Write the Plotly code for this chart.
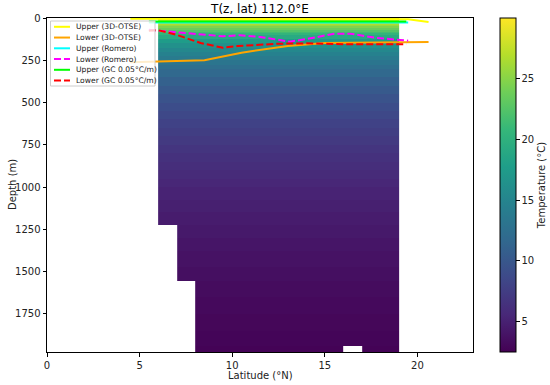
import numpy as np
import plotly.graph_objects as go

# ---- data ----
lat_edges = [6, 7, 8, 9, 10, 11, 12, 13, 14, 15, 16, 17, 18, 19]
bottom_depth = [1225, 1555, 1975, 1975, 1975, 1975, 1975, 1975, 1975, 1975, 1940, 1975, 1975]
depth_edges = [0, 10, 20, 30, 40, 50, 60, 70, 80, 90, 100,
               125, 150, 175, 200, 225, 250, 275, 300,
               350, 400, 450, 500, 550, 600, 650, 700, 750, 800, 850, 900, 950, 1000,
               1075, 1150, 1225, 1300, 1380, 1470, 1555, 1650, 1750, 1850, 1940, 1975]
temp_profile = [28.5, 28.2, 27.6, 26.8, 25.8, 24.7, 23.6, 22.5, 21.5, 20.5,
                19.2, 17.6, 16.4, 15.4, 14.6, 13.9, 13.2, 12.5,
                11.8, 11.0, 10.3, 9.6, 9.0, 8.5, 8.0, 7.6, 7.2, 6.8, 6.4, 6.1, 5.8, 5.5,
                5.2, 4.9, 4.6, 4.35, 4.1, 3.85, 3.6, 3.35, 3.15, 2.95, 2.8, 2.65]

lat_otse = [4.5, 6.0, 8.5, 10.5, 13.0, 15.0, 17.5, 19.5, 20.6]
upper_otse = [5, 5, 5, 5, 5, 5, 5, 8, 24]
lower_otse = [262, 258, 250, 205, 165, 148, 145, 142, 142]

lat_romero = [5.5, 6.0, 7.0, 9.5, 10.4, 11.5, 13.1, 14.0, 15.5, 16.4, 17.8, 19.5]
upper_romero = [26, 26, 26, 26, 26, 26, 26, 26, 26, 26, 26, 26]
lower_romero = [70, 75, 84, 108, 102, 112, 140, 125, 93, 93, 118, 134]

lat_gc = [5.5, 6.0, 7.0, 8.3, 9.5, 10.3, 12.5, 14.0, 16.0, 19.4]
upper_gc = [20, 20, 20, 20, 20, 20, 20, 20, 20, 20]
lower_gc = [76, 72, 100, 148, 176, 166, 152, 150, 155, 155]

series = [
    ("Upper (3D-OTSE)", lat_otse, upper_otse, "#ffff00", "solid"),
    ("Lower (3D-OTSE)", lat_otse, lower_otse, "#ffa500", "solid"),
    ("Upper (Romero)", lat_romero, upper_romero, "#00ffff", "solid"),
    ("Lower (Romero)", lat_romero, lower_romero, "#ff00ff", "7px,3px"),
    ("Upper (GC 0.05°C/m)", lat_gc, upper_gc, "#00ff00", "solid"),
    ("Lower (GC 0.05°C/m)", lat_gc, lower_gc, "#ff0000", "7px,3px"),
]

# ---- build field ----
nz = len(depth_edges) - 1
nx = len(lat_edges) - 1
z = np.full((nz, nx), np.nan)
for j in range(nx):
    for i in range(nz):
        if depth_edges[i] < bottom_depth[j]:
            z[i, j] = temp_profile[i]

FONT = "DejaVu Sans"
fig = go.Figure()
fig.add_trace(go.Heatmap(
    x=lat_edges, y=depth_edges, z=z, colorscale="Viridis", zmin=2.5, zmax=30,
    hoverinfo="skip", showscale=True,
    colorbar=dict(
        x=(500 - 47) / 426, xanchor="left", xpad=0, y=0.5, yanchor="middle", ypad=0,
        len=1, lenmode="fraction", thickness=16, outlinewidth=1, outlinecolor="black",
        tickvals=[5, 10, 15, 20, 25], ticks="outside", ticklen=3.5, tickcolor="black",
        tickfont=dict(size=10, color="#222222", family=FONT),
        title=dict(text="Temperature (°C)", side="right",
                   font=dict(size=10, color="#222222", family=FONT)),
    ),
))

for name, xs, ys, col, dash in series:
    fig.add_trace(go.Scatter(x=xs, y=ys, mode="lines", name=name,
                             line=dict(color=col, width=2, dash=dash),
                             showlegend=False, hoverinfo="skip"))

# ---- matplotlib-like legend (pixel -> plot-area fraction) ----
def dx(px):
    return (px - 47) / 426

def dy(py):
    return 1 - (py - 18) / 334

shapes = [dict(type="rect", xref="x domain", yref="y domain",
               x0=dx(50.5), x1=dx(155), y0=dy(21), y1=dy(86),
               fillcolor="rgba(255,255,255,0.8)", line=dict(color="#cccccc", width=1),
               layer="above")]
annotations = []
for k, (name, xs, ys, col, dash) in enumerate(series):
    yc = 26.8 + k * 10.75
    shapes.append(dict(type="line", xref="x domain", yref="y domain",
                       x0=dx(54), x1=dx(70), y0=dy(yc), y1=dy(yc),
                       line=dict(color=col, width=2, dash=dash), layer="above"))
    annotations.append(dict(xref="x domain", yref="y domain", x=dx(74), y=dy(yc),
                            text=name, showarrow=False, xanchor="left", yanchor="middle",
                            font=dict(size=7.6, color="#222222", family=FONT)))

# axis titles
annotations.append(dict(xref="paper", yref="paper", x=dx(12), y=dy(185),
                        text="Depth (m)", textangle=-90, showarrow=False,
                        xanchor="center", yanchor="middle",
                        font=dict(size=10, color="#222222", family=FONT)))
annotations.append(dict(xref="paper", yref="paper", x=dx(260), y=dy(376),
                        text="Latitude (°N)", showarrow=False,
                        xanchor="center", yanchor="middle",
                        font=dict(size=10, color="#222222", family=FONT)))

axis_common = dict(showline=True, linecolor="black", linewidth=1, mirror=True,
                   ticks="outside", ticklen=3.5, tickcolor="black", showgrid=False,
                   zeroline=False, automargin=False,
                   tickfont=dict(size=10, color="#222222", family=FONT))

fig.update_layout(
    width=550, height=385,
    margin=dict(l=47, r=77, t=18, b=33, autoexpand=False),
    paper_bgcolor="white", plot_bgcolor="white",
    title=dict(text="T(z, lat) 112.0°E", x=260 / 550, xanchor="center", y=1 - 9 / 385,
               yanchor="middle", font=dict(size=12, color="black", family=FONT)),
    xaxis=dict(range=[0, 23], tickvals=[0, 5, 10, 15, 20], **axis_common),
    yaxis=dict(range=[1975, 0], tickvals=[0, 250, 500, 750, 1000, 1250, 1500, 1750],
               **axis_common),
    shapes=shapes, annotations=annotations,
    showlegend=False,
)

fig.write_html("out.html", config={"displayModeBar": False},
               post_script="document.body.style.margin='0px';document.body.style.overflow='hidden';")
